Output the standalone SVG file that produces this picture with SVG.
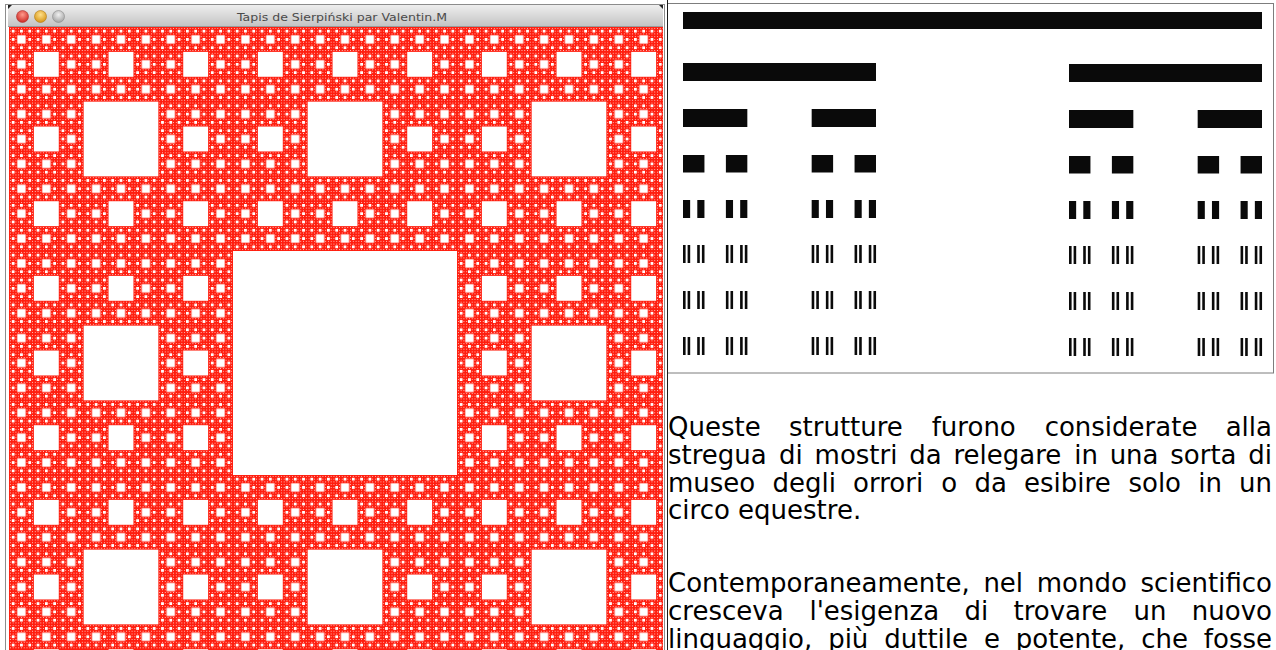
<svg xmlns="http://www.w3.org/2000/svg" xmlns:xlink="http://www.w3.org/1999/xlink" width="1276" height="650" viewBox="0 0 1276 650">
<style>
.t{font-family:"DejaVu Sans","Noto Sans",sans-serif;font-size:26px;fill:#000}
.title{font-family:"DejaVu Sans","Noto Sans",sans-serif;font-size:11px;fill:#4a4a4a}
.bar{fill:#0a0a0a}
.hole{fill:#fff}
</style>
<defs>
<linearGradient id="tb" x1="0" y1="0" x2="0" y2="1">
<stop offset="0" stop-color="#eeeeee"/><stop offset="1" stop-color="#c2c2c2"/>
</linearGradient>
<radialGradient id="gr" cx="0.5" cy="0.35" r="0.6"><stop offset="0" stop-color="#ff9a8c"/><stop offset="1" stop-color="#d0302a"/></radialGradient>
<radialGradient id="gy" cx="0.5" cy="0.35" r="0.6"><stop offset="0" stop-color="#ffe08a"/><stop offset="1" stop-color="#d99a1e"/></radialGradient>
<radialGradient id="gg" cx="0.5" cy="0.35" r="0.6"><stop offset="0" stop-color="#f0f0f0"/><stop offset="1" stop-color="#a8a8a8"/></radialGradient>
<pattern id="p2" x="9" y="27" width="224" height="224" patternUnits="userSpaceOnUse"><rect class="hole" x="74.667" y="74.667" width="74.667" height="74.667"/></pattern>
<pattern id="p3" x="9" y="27" width="74.667" height="74.667" patternUnits="userSpaceOnUse"><rect class="hole" x="24.889" y="24.889" width="24.889" height="24.889"/></pattern>
<pattern id="p4" x="9" y="27" width="24.889" height="24.889" patternUnits="userSpaceOnUse"><rect class="hole" x="8.2963" y="8.2963" width="8.2963" height="8.2963"/></pattern>
<pattern id="p5" x="9" y="27" width="8.2963" height="8.2963" patternUnits="userSpaceOnUse"><rect class="hole" x="2.7654" y="2.7654" width="2.7654" height="2.7654"/></pattern>
<pattern id="p6" x="9" y="27" width="2.7654" height="2.7654" patternUnits="userSpaceOnUse"><rect class="hole" x="0.9218" y="0.9218" width="0.9218" height="0.9218"/></pattern>
<clipPath id="cc"><rect x="9" y="27" width="654" height="623"/></clipPath>
<g id="c4"><rect class="bar" x="0" y="0" width="7.148" height="18"/><rect class="bar" x="14.296" y="0" width="7.148" height="18"/></g>
<g id="c5"><rect class="bar" x="0" y="0" width="2.6" height="18"/><rect class="bar" x="4.6" y="0" width="2.6" height="18"/><rect class="bar" x="14.2" y="0" width="2.6" height="18"/><rect class="bar" x="18.9" y="0" width="2.6" height="18"/></g>
</defs>
<rect width="1276" height="650" fill="#fff"/>

<g id="window">
<rect x="5.5" y="4.5" width="659" height="660" fill="#fff" stroke="#8c8c8c"/>
<rect x="8" y="5" width="655" height="22" fill="url(#tb)"/>
<line x1="8" y1="26.5" x2="663" y2="26.5" stroke="#9a9a9a"/>
<polygon points="8,5 12,5 8,9" fill="#222"/>
<polygon points="663,5 659,5 663,9" fill="#222"/>
<circle cx="22.5" cy="16.5" r="6" fill="url(#gr)" stroke="#a33" stroke-width="0.6"/>
<circle cx="40.5" cy="16.5" r="6" fill="url(#gy)" stroke="#b07a14" stroke-width="0.6"/>
<circle cx="58.5" cy="16.5" r="6" fill="url(#gg)" stroke="#8a8a8a" stroke-width="0.6"/>
<text class="title" x="342" y="20.5" text-anchor="middle" textLength="210" lengthAdjust="spacingAndGlyphs">Tapis de Sierpiński par Valentin.M</text>
<g id="carpet" clip-path="url(#cc)">
<rect x="9" y="27" width="672" height="672" fill="#ff1e0f"/>
<rect class="hole" x="233" y="251" width="224" height="224"/>
<rect x="9" y="27" width="672" height="672" fill="url(#p2)"/>
<rect x="9" y="27" width="672" height="672" fill="url(#p3)"/>
<rect x="9" y="27" width="672" height="672" fill="url(#p4)"/>
<rect x="9" y="27" width="672" height="672" fill="url(#p5)"/>
<rect x="9" y="27" width="672" height="672" fill="url(#p6)" opacity="0.75"/>
</g>
</g>

<g id="cantor">
<rect x="667.5" y="3.5" width="606" height="369.5" fill="#fff" stroke="#7d7d7d"/>
<rect class="bar" x="683" y="12" width="579" height="17"/>
<rect class="bar" x="683" y="63" width="193" height="18"/>
<rect class="bar" x="1069" y="64" width="193" height="18"/>
<rect class="bar" x="683" y="109" width="64.33" height="18"/>
<rect class="bar" x="811.67" y="109" width="64.33" height="18"/>
<rect class="bar" x="1069" y="110" width="64.33" height="18"/>
<rect class="bar" x="1197.67" y="110" width="64.33" height="18"/>
<rect class="bar" x="683" y="155" width="21.44" height="17.5"/>
<rect class="bar" x="725.89" y="155" width="21.44" height="17.5"/>
<rect class="bar" x="811.67" y="155" width="21.44" height="17.5"/>
<rect class="bar" x="854.56" y="155" width="21.44" height="17.5"/>
<rect class="bar" x="1069" y="156" width="21.44" height="17.5"/>
<rect class="bar" x="1111.89" y="156" width="21.44" height="17.5"/>
<rect class="bar" x="1197.67" y="156" width="21.44" height="17.5"/>
<rect class="bar" x="1240.56" y="156" width="21.44" height="17.5"/>
<use xlink:href="#c4" x="683" y="200"/><use xlink:href="#c4" x="725.89" y="200"/><use xlink:href="#c4" x="811.67" y="200"/><use xlink:href="#c4" x="854.56" y="200"/>
<use xlink:href="#c4" x="1069" y="201"/><use xlink:href="#c4" x="1111.89" y="201"/><use xlink:href="#c4" x="1197.67" y="201"/><use xlink:href="#c4" x="1240.56" y="201"/>
<use xlink:href="#c5" x="683" y="245"/><use xlink:href="#c5" x="725.89" y="245"/><use xlink:href="#c5" x="811.67" y="245"/><use xlink:href="#c5" x="854.56" y="245"/>
<use xlink:href="#c5" x="1069" y="246"/><use xlink:href="#c5" x="1111.89" y="246"/><use xlink:href="#c5" x="1197.67" y="246"/><use xlink:href="#c5" x="1240.56" y="246"/>
<use xlink:href="#c5" x="683" y="291"/><use xlink:href="#c5" x="725.89" y="291"/><use xlink:href="#c5" x="811.67" y="291"/><use xlink:href="#c5" x="854.56" y="291"/>
<use xlink:href="#c5" x="1069" y="292"/><use xlink:href="#c5" x="1111.89" y="292"/><use xlink:href="#c5" x="1197.67" y="292"/><use xlink:href="#c5" x="1240.56" y="292"/>
<use xlink:href="#c5" x="683" y="337"/><use xlink:href="#c5" x="725.89" y="337"/><use xlink:href="#c5" x="811.67" y="337"/><use xlink:href="#c5" x="854.56" y="337"/>
<use xlink:href="#c5" x="1069" y="338"/><use xlink:href="#c5" x="1111.89" y="338"/><use xlink:href="#c5" x="1197.67" y="338"/><use xlink:href="#c5" x="1240.56" y="338"/>
</g>

<line id="divider" x1="667.5" y1="0" x2="667.5" y2="650" stroke="#1a1a1a"/>

<g id="text">
<text class="t" y="436"><tspan x="668">Queste</tspan><tspan x="788.98">strutture</tspan><tspan x="931.73">furono</tspan><tspan x="1044.64">considerate</tspan><tspan x="1225.69">alla</tspan></text>
<text class="t" y="464"><tspan x="668">stregua</tspan><tspan x="779.09">di</tspan><tspan x="814.57">mostri</tspan><tspan x="909.21">da</tspan><tspan x="953.4">relegare</tspan><tspan x="1074.18">in</tspan><tspan x="1109.63">una</tspan><tspan x="1170.27">sorta</tspan><tspan x="1248.29">di</tspan></text>
<text class="t" y="491.5"><tspan x="668">museo</tspan><tspan x="772.44">degli</tspan><tspan x="853.07">orrori</tspan><tspan x="941.36">o</tspan><tspan x="974.45">da</tspan><tspan x="1024.07">esibire</tspan><tspan x="1128.43">solo</tspan><tspan x="1198.19">in</tspan><tspan x="1239.07">un</tspan></text>
<text class="t" x="668" y="519">circo equestre.</text>
<text class="t" y="592"><tspan x="668">Contemporaneamente,</tspan><tspan x="983.39">nel</tspan><tspan x="1036.72">mondo</tspan><tspan x="1140.47">scientifico</tspan></text>
<text class="t" y="620"><tspan x="668">cresceva</tspan><tspan x="809.44">l'esigenza</tspan><tspan x="964.44">di</tspan><tspan x="1013.47">trovare</tspan><tspan x="1133.57">un</tspan><tspan x="1191.83">nuovo</tspan></text>
<text class="t" y="648"><tspan x="668">linguaggio,</tspan><tspan x="828.13">più</tspan><tspan x="884.22">duttile</tspan><tspan x="983.92">e</tspan><tspan x="1015.8">potente,</tspan><tspan x="1141.22">che</tspan><tspan x="1203.87">fosse</tspan></text>
</g>
<g id="connectors"/>
</svg>
